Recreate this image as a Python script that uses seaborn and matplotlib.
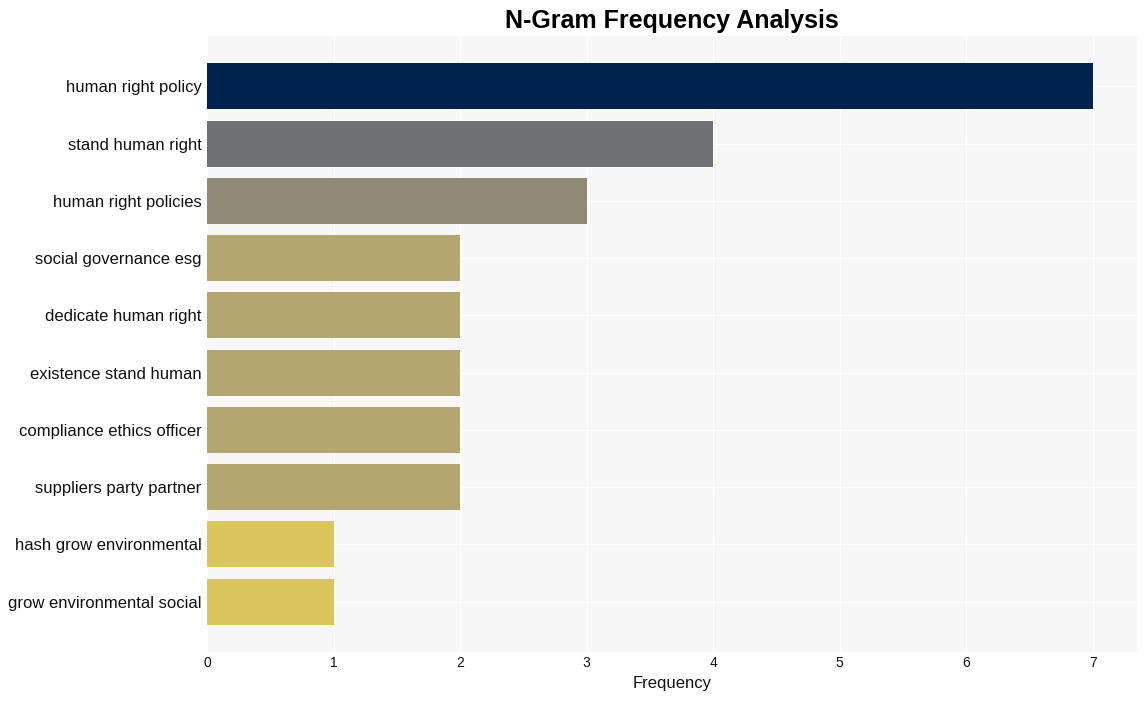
import matplotlib
matplotlib.use("Agg")
import matplotlib.pyplot as plt
import seaborn as sns
import pandas as pd

ngrams = [
    "human right policy",
    "stand human right",
    "human right policies",
    "social governance esg",
    "dedicate human right",
    "existence stand human",
    "compliance ethics officer",
    "suppliers party partner",
    "hash grow environmental",
    "grow environmental social",
]
freqs = [7, 4, 3, 2, 2, 2, 2, 2, 1, 1]
colors = {7: "#00224e", 4: "#6f7074", 3: "#918a77", 2: "#b2a770", 1: "#dbc55d"}

df = pd.DataFrame({"ngram": ngrams, "freq": freqs})
df["key"] = df["freq"].astype(str)

sns.set_style("whitegrid", {"axes.facecolor": "#f7f7f7", "grid.color": "white"})
plt.rcParams["font.family"] = ["Liberation Sans", "DejaVu Sans"]

fig = plt.figure(figsize=(11.47, 7.01), dpi=100)
ax = fig.add_axes([207 / 1147, 1 - 652 / 701, (1137 - 207) / 1147, (652 - 36) / 701])

sns.barplot(
    data=df, x="freq", y="ngram", hue="key",
    palette={str(k): v for k, v in colors.items()},
    dodge=False, legend=False, width=0.8, saturation=1, linewidth=0, ax=ax,
)

ax.set_xlim(0, 7.35)
ax.set_ylim(9.88, -0.88)
ax.set_xlabel("Frequency", fontsize=12, color="#111111", labelpad=4)
ax.set_ylabel("")
ax.set_title("N-Gram Frequency Analysis", fontsize=18, fontweight="bold", pad=6, color="black")
ax.tick_params(axis="y", labelsize=12, length=0, pad=4, colors="#111111")
ax.tick_params(axis="x", labelsize=10, length=0, pad=3, colors="#111111")
for s in ax.spines.values():
    s.set_visible(False)
ax.grid(axis="both", color="white", linewidth=1)

fig.savefig("out.png", dpi=100)
